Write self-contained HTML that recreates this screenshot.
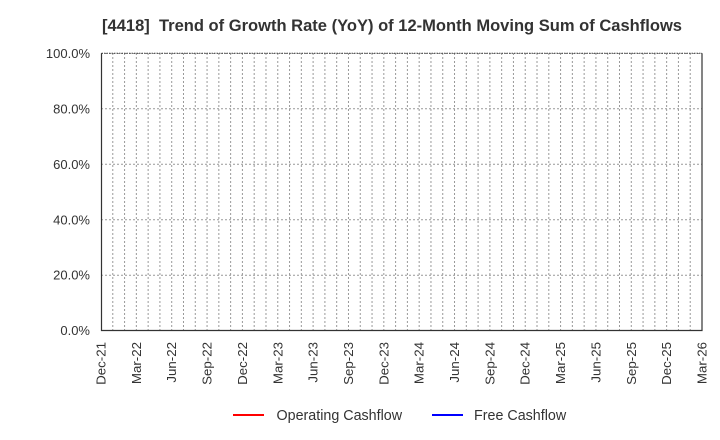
<!DOCTYPE html>
<html><head><meta charset="utf-8"><style>
html,body{margin:0;padding:0;background:#fff;}
svg{display:block;font-family:"Liberation Sans",Arial,sans-serif;}
</style></head><body>
<svg width="720" height="440" viewBox="0 0 720 440" xmlns="http://www.w3.org/2000/svg">
<rect width="720" height="440" fill="#fff"/>
<text x="102" y="31" font-size="16.4" font-weight="bold" fill="#333" textLength="580" lengthAdjust="spacingAndGlyphs">[4418]&#160; Trend of Growth Rate (YoY) of 12-Month Moving Sum of Cashflows</text>
<g stroke="#999" stroke-width="1" stroke-dasharray="2,2" fill="none">
<path d="M101 275.2H702M101 219.8H702M101 164.3H702M101 108.8H702M101 53.5H702"/>
<path d="M112.78 53V330M124.57 53V330M136.35 53V330M148.14 53V330M159.92 53V330M171.71 53V330M183.49 53V330M195.27 53V330M207.06 53V330M218.84 53V330M230.63 53V330M242.41 53V330M254.19 53V330M265.98 53V330M277.76 53V330M289.55 53V330M301.33 53V330M313.11 53V330M324.9 53V330M336.68 53V330M348.47 53V330M360.25 53V330M372.04 53V330M383.82 53V330M395.6 53V330M407.39 53V330M419.17 53V330M430.96 53V330M442.74 53V330M454.52 53V330M466.31 53V330M478.09 53V330M489.88 53V330M501.66 53V330M513.44 53V330M525.23 53V330M537.01 53V330M548.8 53V330M560.58 53V330M572.36 53V330M584.15 53V330M595.93 53V330M607.72 53V330M619.5 53V330M631.29 53V330M643.07 53V330M654.85 53V330M666.64 53V330M678.42 53V330M690.21 53V330"/>
</g>
<path d="M101.5 53.3V330.5H702V53.3" stroke="#333" stroke-width="1.2" fill="none"/>
<path d="M101.5 53.3H702" stroke="#444" stroke-width="1" stroke-dasharray="1.5,1" fill="none"/>
<g font-size="13" fill="#333" text-anchor="end">
<text x="90" y="335">0.0%</text>
<text x="90" y="279.7">20.0%</text>
<text x="90" y="224.3">40.0%</text>
<text x="90" y="168.8">60.0%</text>
<text x="90" y="113.3">80.0%</text>
<text x="90" y="57.8">100.0%</text>
</g>
<g font-size="13.3" fill="#333" text-anchor="end">
<text transform="translate(105.5,342) rotate(-90)">Dec-21</text>
<text transform="translate(140.85,342) rotate(-90)">Mar-22</text>
<text transform="translate(176.21,342) rotate(-90)">Jun-22</text>
<text transform="translate(211.56,342) rotate(-90)">Sep-22</text>
<text transform="translate(246.91,342) rotate(-90)">Dec-22</text>
<text transform="translate(282.26,342) rotate(-90)">Mar-23</text>
<text transform="translate(317.61,342) rotate(-90)">Jun-23</text>
<text transform="translate(352.97,342) rotate(-90)">Sep-23</text>
<text transform="translate(388.32,342) rotate(-90)">Dec-23</text>
<text transform="translate(423.67,342) rotate(-90)">Mar-24</text>
<text transform="translate(459.02,342) rotate(-90)">Jun-24</text>
<text transform="translate(494.38,342) rotate(-90)">Sep-24</text>
<text transform="translate(529.73,342) rotate(-90)">Dec-24</text>
<text transform="translate(565.08,342) rotate(-90)">Mar-25</text>
<text transform="translate(600.43,342) rotate(-90)">Jun-25</text>
<text transform="translate(635.79,342) rotate(-90)">Sep-25</text>
<text transform="translate(671.14,342) rotate(-90)">Dec-25</text>
<text transform="translate(706.5,342) rotate(-90)">Mar-26</text>
</g>
<line x1="233" y1="415" x2="264" y2="415" stroke="#f00" stroke-width="2"/>
<text x="276.5" y="420" font-size="14.3" fill="#333">Operating Cashflow</text>
<line x1="432" y1="415" x2="463" y2="415" stroke="#00f" stroke-width="2"/>
<text x="474" y="420" font-size="14.3" fill="#333">Free Cashflow</text>
</svg>
</body></html>
